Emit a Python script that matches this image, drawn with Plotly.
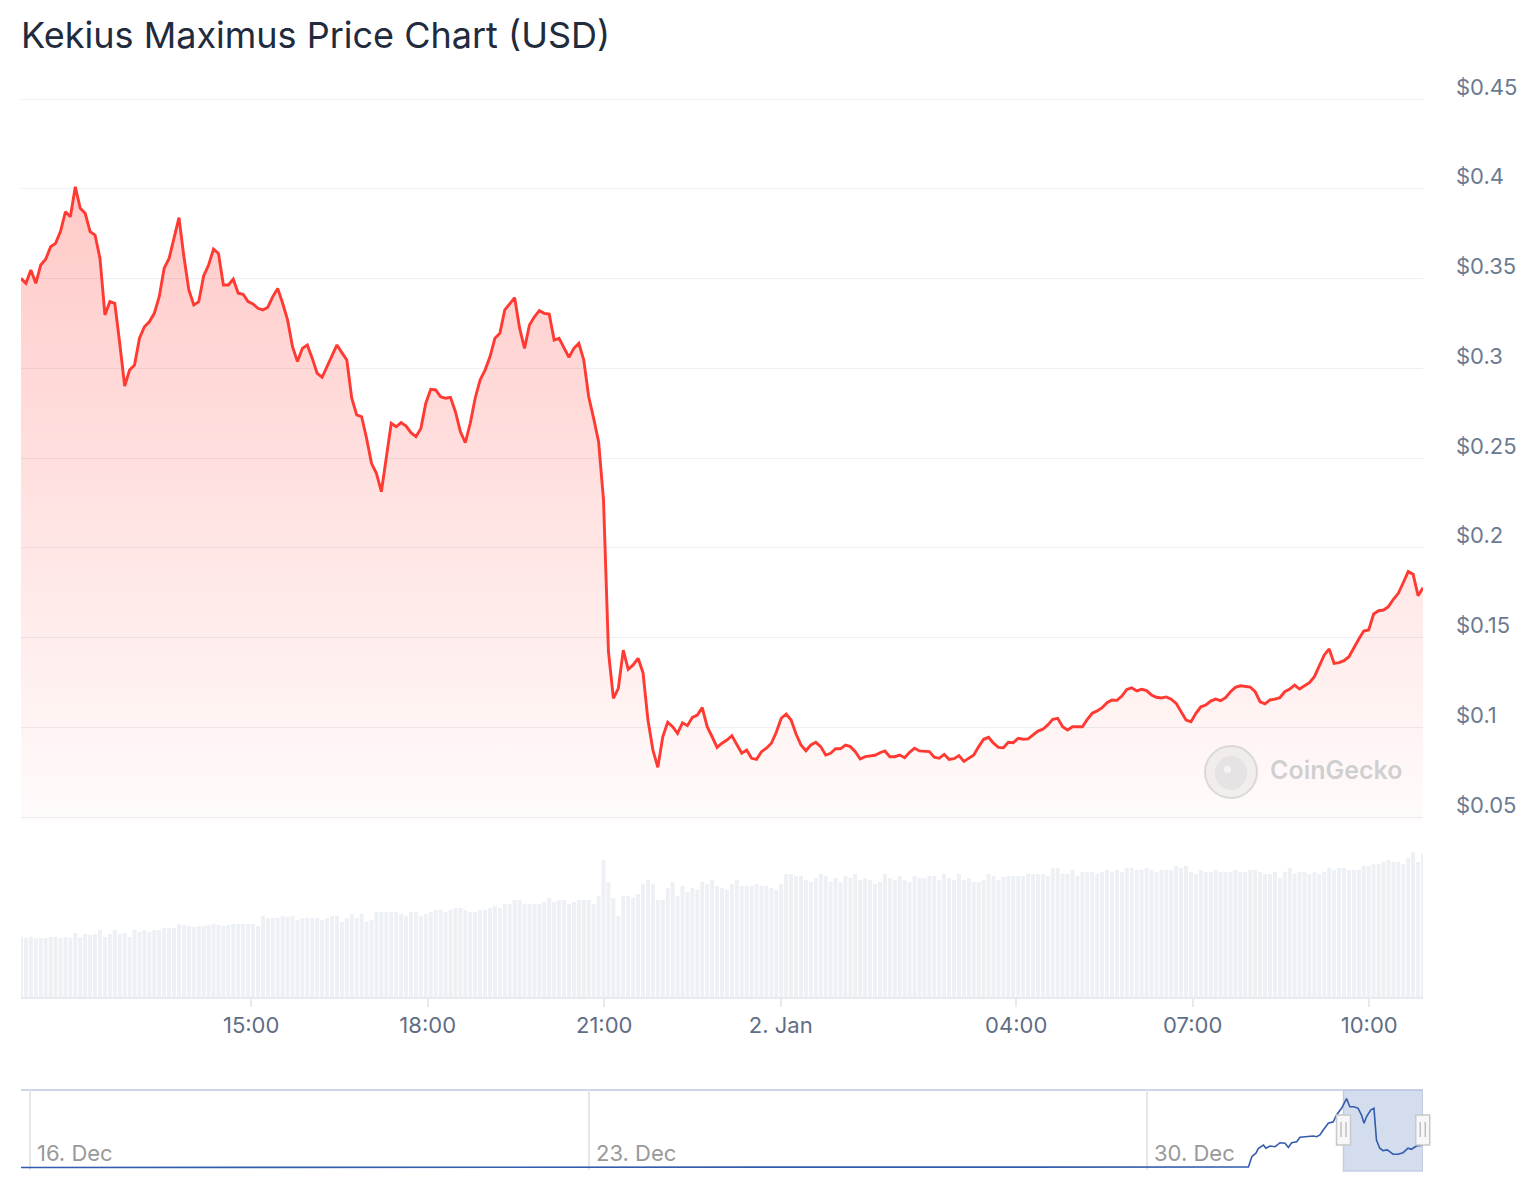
import pandas as pd
import plotly.graph_objects as go

# ---------------- data ----------------
start_time = "2025-01-01 11:05:20"
step = "302s"

price = [
    0.3501, 0.3473, 0.3547, 0.3473, 0.3575, 0.3607, 0.3677, 0.3696, 0.3761, 0.3872,
    0.3844, 0.4011, 0.3891, 0.3863, 0.3761, 0.3742, 0.3612, 0.3297, 0.3371, 0.3362,
    0.3139, 0.2901, 0.2990, 0.3018, 0.3167, 0.3231, 0.3259, 0.3306, 0.3399, 0.3557,
    0.3612, 0.3724, 0.3839, 0.3621, 0.3436, 0.3352, 0.3371, 0.3514, 0.3575, 0.3664,
    0.3640, 0.3464, 0.3464, 0.3496, 0.3418, 0.3412, 0.3371, 0.3358, 0.3334, 0.3325,
    0.3340, 0.3399, 0.3445, 0.3362, 0.3269, 0.3120, 0.3037, 0.3111, 0.3130, 0.3055,
    0.2972, 0.2950, 0.3009, 0.3074, 0.3130, 0.3087, 0.3046, 0.2833, 0.2740, 0.2730,
    0.2610, 0.2470, 0.2415, 0.2312, 0.2498, 0.2693, 0.2674, 0.2697, 0.2678, 0.2641,
    0.2619, 0.2665, 0.2805, 0.2883, 0.2879, 0.2841, 0.2833, 0.2838, 0.2758, 0.2647,
    0.2585, 0.2693, 0.2833, 0.2935, 0.2990, 0.3064, 0.3167, 0.3195, 0.3325, 0.3362,
    0.3393, 0.3223, 0.3111, 0.3241, 0.3287, 0.3321, 0.3306, 0.3302, 0.3157, 0.3167,
    0.3111, 0.3061, 0.3111, 0.3139, 0.3046, 0.2841, 0.2721, 0.2591, 0.2266, 0.1421,
    0.1161, 0.1217, 0.1430, 0.1323, 0.1347, 0.1384, 0.1304, 0.1040, 0.0873, 0.0777,
    0.0947, 0.1028, 0.1003, 0.0966, 0.1025, 0.1009, 0.1055, 0.1068, 0.1109, 0.1003,
    0.0947, 0.0888, 0.0911, 0.0929, 0.0953, 0.0907, 0.0855, 0.0873, 0.0827, 0.0821,
    0.0864, 0.0883, 0.0911, 0.0972, 0.1050, 0.1074, 0.1040, 0.0962, 0.0901, 0.0869,
    0.0901, 0.0916, 0.0892, 0.0845, 0.0855, 0.0880, 0.0880, 0.0901, 0.0892, 0.0864,
    0.0823, 0.0836, 0.0838, 0.0844, 0.0858, 0.0868, 0.0836, 0.0836, 0.0845, 0.0830,
    0.0860, 0.0883, 0.0868, 0.0866, 0.0864, 0.0833, 0.0827, 0.0849, 0.0821, 0.0825,
    0.0842, 0.0810, 0.0827, 0.0845, 0.0892, 0.0933, 0.0944, 0.0911, 0.0888, 0.0886,
    0.0916, 0.0914, 0.0938, 0.0933, 0.0935, 0.0957, 0.0979, 0.0989, 0.1013, 0.1044,
    0.1050, 0.1003, 0.0985, 0.1003, 0.1003, 0.1003, 0.1044, 0.1078, 0.1091, 0.1109,
    0.1137, 0.1152, 0.1150, 0.1174, 0.1211, 0.1220, 0.1202, 0.1211, 0.1204, 0.1180,
    0.1167, 0.1163, 0.1169, 0.1156, 0.1133, 0.1087, 0.1040, 0.1031, 0.1078, 0.1114,
    0.1124, 0.1146, 0.1157, 0.1148, 0.1165, 0.1198, 0.1222, 0.1231, 0.1226, 0.1224,
    0.1198, 0.1142, 0.1130, 0.1152, 0.1157, 0.1165, 0.1198, 0.1213, 0.1235, 0.1213,
    0.1231, 0.1248, 0.1282, 0.1343, 0.1403, 0.1436, 0.1356, 0.1360, 0.1371, 0.1393,
    0.1445, 0.1492, 0.1536, 0.1542, 0.1631, 0.1649, 0.1653, 0.1672, 0.1713, 0.1746,
    0.1805, 0.1867, 0.1852, 0.1733, 0.1777,
]

# 24h trading volume, millions USD
volume = [
    6.0, 5.9, 6.0, 5.9, 5.9, 5.9, 6.0, 6.0, 5.9, 6.0,
    5.9, 6.4, 6.0, 6.3, 6.2, 6.3, 6.7, 6.0, 6.3, 6.7,
    6.3, 6.4, 6.0, 6.7, 6.5, 6.7, 6.5, 6.7, 6.7, 6.9,
    6.9, 6.9, 7.3, 7.2, 7.1, 7.0, 7.1, 7.1, 7.2, 7.3,
    7.2, 7.1, 7.2, 7.3, 7.3, 7.3, 7.3, 7.3, 7.1, 8.1,
    7.9, 7.9, 7.9, 8.1, 8.0, 8.1, 7.7, 7.9, 7.9, 7.9,
    7.9, 7.7, 7.9, 8.1, 8.1, 7.5, 7.9, 8.3, 7.9, 8.3,
    7.5, 7.7, 8.5, 8.5, 8.5, 8.5, 8.5, 8.3, 8.1, 8.5,
    8.5,
    8.1, 8.3, 8.5, 8.7, 8.7, 8.5, 8.7, 8.9, 8.9, 8.7,
    8.5, 8.5, 8.7, 8.7, 8.9, 9.1, 8.9, 9.3, 9.3, 9.7,
    9.7, 9.3, 9.3, 9.3, 9.3, 9.5, 9.9, 9.5, 9.7, 9.7,
    9.3, 9.5, 9.7, 9.7, 9.7, 9.3, 10.1, 13.7, 11.5, 9.9,
    8.1, 10.1, 10.1, 9.9, 10.3, 11.3, 11.7, 11.3, 9.7, 9.7,
    10.9, 11.5, 10.1, 11.1, 10.5, 10.9, 10.7, 11.5, 11.3,
    11.7, 11.1, 10.9, 10.7, 11.3, 11.7, 11.1, 11.1, 11.1, 11.3,
    11.1, 11.1, 10.9, 10.7, 11.3, 12.3, 12.3, 12.1, 12.1, 11.7,
    11.5, 11.9, 12.3, 12.1, 11.5, 11.9, 11.5, 12.1, 11.9, 12.3,
    11.7, 11.9, 11.7, 11.3, 11.5, 12.3, 11.9, 11.7, 12.1, 11.7,
    11.5, 12.1, 11.9, 11.9, 12.1, 12.1, 11.7, 12.3, 11.9, 11.7,
    12.3, 11.7, 11.9, 11.5, 11.5, 11.7, 12.3, 12.1,
    11.7, 12.0, 12.1, 12.1, 12.1, 12.1, 12.3, 12.3, 12.3, 12.3,
    12.1, 12.9, 12.9, 12.3, 12.3, 12.7, 12.1, 12.5, 12.5, 12.5,
    12.3, 12.5, 12.7, 12.5, 12.7, 12.5, 12.9, 12.9, 12.7, 12.7,
    12.9, 12.7, 12.5, 12.7, 12.7, 12.7, 13.1, 12.9, 13.1, 12.5,
    12.3, 12.7, 12.5, 12.5, 12.7, 12.5, 12.5, 12.5, 12.7, 12.5,
    12.5,
    12.7, 12.7, 12.5, 12.3, 12.3, 12.5, 11.9, 12.5, 12.9, 12.3,
    12.5, 12.5, 12.3, 12.5, 12.3, 12.5, 12.9, 12.7, 12.9, 12.9,
    12.7, 12.7, 12.7, 13.1, 13.1, 13.3, 13.3, 13.5, 13.7, 13.5,
    13.5, 13.3, 13.9, 14.5, 13.5, 14.3,
]

x_tick_vals = ["2025-01-01 15:00", "2025-01-01 18:00", "2025-01-01 21:00",
               "2025-01-02 00:00", "2025-01-02 04:00", "2025-01-02 07:00",
               "2025-01-02 10:00"]
x_tick_text = ["15:00", "18:00", "21:00", "2. Jan", "04:00", "07:00", "10:00"]

y_tick_vals = [0.05, 0.1, 0.15, 0.2, 0.25, 0.3, 0.35, 0.4, 0.45]
y_tick_text = ["$0.05", "$0.1", "$0.15", "$0.2", "$0.25", "$0.3", "$0.35", "$0.4", "$0.45"]

nav_dates = [
    "2024-12-15 21:00", "2024-12-17 00:00", "2024-12-18 12:00", "2024-12-20 00:00",
    "2024-12-21 12:00", "2024-12-23 00:00", "2024-12-24 12:00", "2024-12-26 00:00",
    "2024-12-27 00:00", "2024-12-28 00:00", "2024-12-29 00:00", "2024-12-29 12:00",
    "2024-12-30 00:00", "2024-12-30 12:00", "2024-12-31 00:00", "2024-12-31 06:30",
    "2024-12-31 07:30", "2024-12-31 08:45", "2024-12-31 09:30", "2024-12-31 11:00",
    "2024-12-31 11:45", "2024-12-31 13:00", "2024-12-31 14:30", "2024-12-31 16:00",
    "2024-12-31 17:30", "2024-12-31 18:30", "2024-12-31 19:30", "2024-12-31 21:00",
    "2024-12-31 22:00", "2025-01-01 00:00", "2025-01-01 02:00", "2025-01-01 03:00",
    "2025-01-01 04:00", "2025-01-01 05:00", "2025-01-01 06:30", "2025-01-01 08:00",
    "2025-01-01 09:00", "2025-01-01 10:30", "2025-01-01 12:00", "2025-01-01 13:00",
    "2025-01-01 14:15", "2025-01-01 15:30", "2025-01-01 16:30", "2025-01-01 17:15",
    "2025-01-01 18:00", "2025-01-01 19:15", "2025-01-01 20:15", "2025-01-01 21:00",
    "2025-01-01 22:00", "2025-01-01 23:00", "2025-01-02 00:15", "2025-01-02 02:00",
    "2025-01-02 03:30", "2025-01-02 05:00", "2025-01-02 06:30", "2025-01-02 07:30",
    "2025-01-02 09:00", "2025-01-02 10:45",
]
nav_price = [
    0.0003, 0.0004, 0.0006, 0.0004,
    0.0005, 0.0007, 0.0005, 0.0008,
    0.0012, 0.0022, 0.0035, 0.0050,
    0.0042, 0.0038, 0.0030, 0.0030,
    0.063, 0.083, 0.112, 0.131,
    0.112, 0.125, 0.121, 0.144,
    0.141, 0.117, 0.144, 0.150,
    0.176, 0.179, 0.183, 0.179,
    0.189, 0.218, 0.257, 0.266,
    0.305, 0.344, 0.401, 0.353,
    0.353, 0.344, 0.305, 0.257,
    0.295, 0.334, 0.344, 0.160,
    0.112, 0.098, 0.102, 0.078,
    0.077, 0.086, 0.112, 0.106,
    0.125, 0.130,
]
nav_tick_vals = ["2024-12-16", "2024-12-23", "2024-12-30"]
nav_tick_text = ["16. Dec", "23. Dec", "30. Dec"]
nav_range = ["2024-12-15 21:17", "2025-01-02 11:00"]

# ---------------- figure ----------------
W, H = 1540, 1200
L, R = 21, 117
FONT = "Inter, 'Noto Sans', sans-serif"

times = pd.date_range(start_time, periods=len(price), freq=step)

def py(px):
    return 1 - px / H

def pxx(px):
    return (px - L) / (W - L - R)

def nav_frac(t):
    a, b = pd.Timestamp(nav_range[0]), pd.Timestamp(nav_range[1])
    return (pd.Timestamp(t) - a) / (b - a)

fig = go.Figure()

fig.add_trace(go.Scatter(
    x=times, y=price, mode="lines",
    line=dict(color="#ff3a33", width=2.9),
    fill="tozeroy",
    fillgradient=dict(type="vertical",
                      colorscale=[[0, "rgba(255,58,51,0.02)"], [1, "rgba(255,58,51,0.27)"]],
                      start=0.05, stop=0.40),
    xaxis="x", yaxis="y", hoverinfo="skip",
))

fig.add_trace(go.Bar(
    x=times, y=volume, marker=dict(color="#edf0f4", line=dict(width=0)),
    xaxis="x", yaxis="y2", hoverinfo="skip",
))

fig.add_trace(go.Scatter(
    x=nav_dates, y=nav_price, mode="lines",
    line=dict(color="#335cad", width=1.6),
    xaxis="x2", yaxis="y3", hoverinfo="skip",
))

shapes = []
# navigator top outline
shapes.append(dict(type="line", xref="paper", yref="paper", x0=0, x1=1,
                   y0=py(1090), y1=py(1090), line=dict(color="#cdd6e6", width=2), layer="below"))
# navigator selected range mask
shapes.append(dict(type="rect", xref="x2", yref="paper",
                   x0=times[0], x1=times[-1], y0=py(1171), y1=py(1090),
                   fillcolor="rgba(102,133,194,0.28)",
                   line=dict(color="#c3cde2", width=1.5), layer="below"))
# handles (paper-referenced so they are not clipped at the plot edge)
for t in (times[0], times[-1]):
    f = nav_frac(t)
    shapes.append(dict(type="rect", xref="paper", yref="paper", xsizemode="pixel", xanchor=f,
                       x0=-7, x1=7, y0=py(1145), y1=py(1115),
                       fillcolor="#f7f7f7", line=dict(color="#c8c8c8", width=1.5), layer="above"))
    for off in (-2.5, 2.5):
        shapes.append(dict(type="line", xref="paper", yref="paper", xsizemode="pixel", xanchor=f,
                           x0=off, x1=off, y0=py(1137), y1=py(1122),
                           line=dict(color="#b0b0b0", width=1.2), layer="above"))
# CoinGecko watermark logo
shapes.append(dict(type="circle", xref="paper", yref="paper",
                   x0=pxx(1205), x1=pxx(1257), y0=py(798), y1=py(746),
                   fillcolor="rgba(225,225,225,0.45)", line=dict(color="rgba(210,210,210,0.8)", width=2),
                   layer="above"))
shapes.append(dict(type="circle", xref="paper", yref="paper",
                   x0=pxx(1215), x1=pxx(1247), y0=py(790), y1=py(756),
                   fillcolor="rgba(215,215,215,0.45)", line=dict(width=0), layer="above"))
shapes.append(dict(type="circle", xref="paper", yref="paper",
                   x0=pxx(1224), x1=pxx(1231), y0=py(773), y1=py(766),
                   fillcolor="rgba(245,245,245,0.9)", line=dict(width=0), layer="above"))

annotations = [
    dict(text="Kekius Maximus Price Chart (USD)", xref="paper", yref="paper",
         x=0, xshift=-2, y=py(35), xanchor="left", yanchor="middle", showarrow=False,
         font=dict(family=FONT, size=36, color="#212b3d")),
    dict(text="CoinGecko", xref="paper", yref="paper",
         x=pxx(1336), y=py(770), xanchor="center", yanchor="middle", showarrow=False,
         font=dict(family=FONT, size=25, color="rgba(200,200,200,0.85)", weight=600)),
]
for v, t in zip(nav_tick_vals, nav_tick_text):
    annotations.append(dict(text=t, xref="x2", yref="paper", x=v, xshift=5,
                            y=py(1153), xanchor="left", yanchor="middle", showarrow=False,
                            font=dict(family=FONT, size=22, color="#999999")))

# main price axis: 0.05 at 817px, 0.45 at 99px, padded slightly so edge gridlines draw
PX_PER_UNIT = (817 - 99) / 0.40
y_lo, y_hi = 0.048, 0.452
main_bottom = 817 + (0.05 - y_lo) * PX_PER_UNIT
main_top = 99 - (y_hi - 0.45) * PX_PER_UNIT

fig.update_layout(
    width=W, height=H, autosize=False,
    margin=dict(l=L, r=R, t=0, b=0, pad=0, autoexpand=False),
    paper_bgcolor="white", plot_bgcolor="rgba(0,0,0,0)",
    showlegend=False, bargap=0.2,
    font=dict(family=FONT),
    xaxis=dict(domain=[0, 1], anchor="y2", type="date", automargin=False,
               range=[times[0], times[-1]],
               tickvals=x_tick_vals, ticktext=x_tick_text,
               showgrid=False, zeroline=False,
               showline=True, linecolor="#e6e9ee", linewidth=2,
               ticks="outside", ticklen=8, tickwidth=2, tickcolor="#e6e9ee",
               tickfont=dict(family=FONT, size=22, color="#5f6e85")),
    yaxis=dict(domain=[py(main_bottom), py(main_top)], anchor="x", side="right",
               automargin=False, range=[y_lo, y_hi],
               tickvals=y_tick_vals, ticktext=y_tick_text,
               showgrid=True, gridcolor="#eceff3", gridwidth=1.2,
               zeroline=False, showline=False, ticks="",
               ticklabelstandoff=32, ticklabelshift=-12,
               tickfont=dict(family=FONT, size=22, color="#6b7a90")),
    yaxis2=dict(domain=[py(997), py(817)], anchor="x", range=[0, 18], visible=False,
                automargin=False),
    xaxis2=dict(domain=[0, 1], anchor="y3", type="date", automargin=False,
                range=nav_range,
                tickvals=nav_tick_vals, showticklabels=False,
                showgrid=True, gridcolor="#e6e6e6", gridwidth=1.5,
                zeroline=False, showline=False, ticks=""),
    yaxis3=dict(domain=[py(1170), py(1090)], anchor="x2", range=[-0.0145, 0.4506],
                visible=False, automargin=False),
    shapes=shapes, annotations=annotations,
)

fig.write_html("out.html", config={"displayModeBar": False, "responsive": False},
               post_script="document.body.style.margin='0px';")
